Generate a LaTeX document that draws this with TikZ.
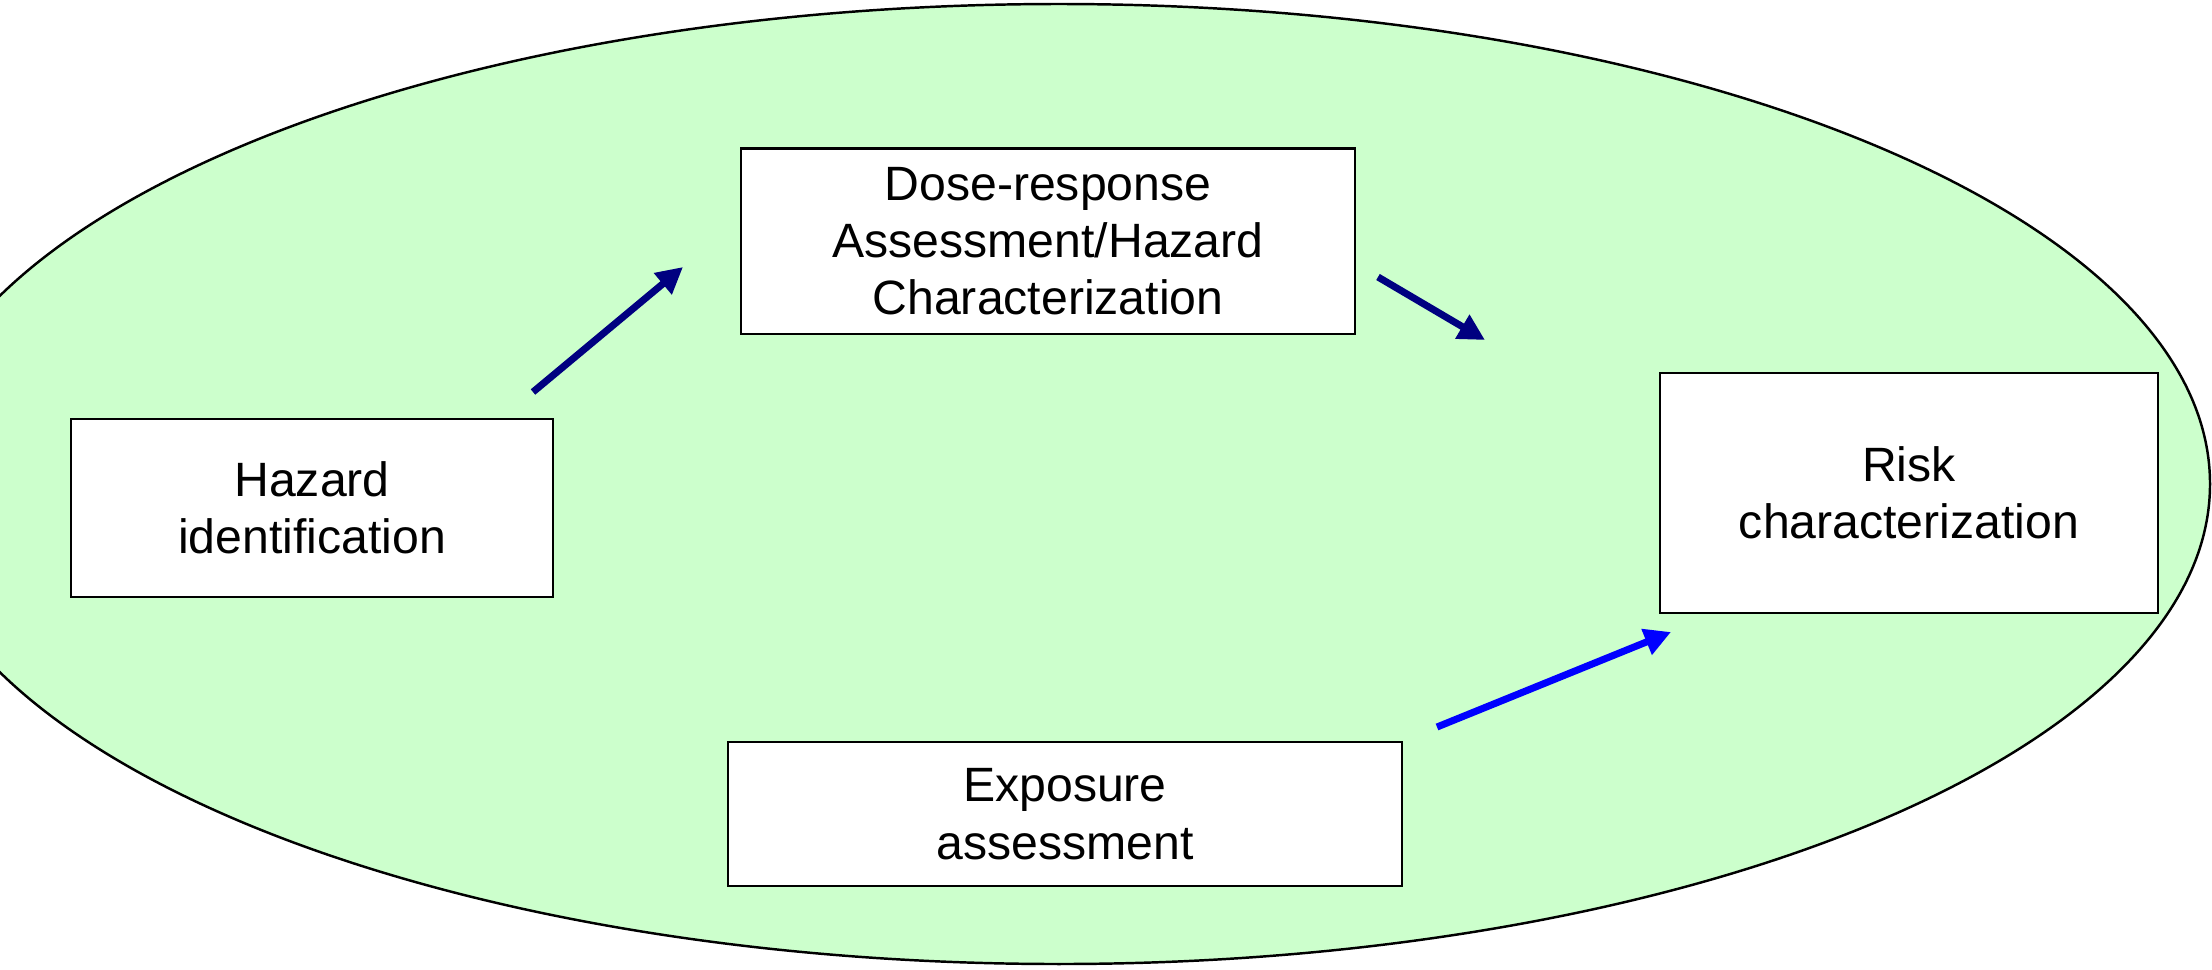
\documentclass[tikz,border=0pt]{standalone}
\usepackage{fontspec}
\setmainfont{Liberation Sans}
\usepackage{tikz}
\usetikzlibrary{arrows.meta}
\definecolor{pale}{RGB}{204, 255, 204}
\definecolor{navy}{RGB}{0, 0, 128}
\definecolor{bright}{RGB}{0, 0, 255}
\tikzset{
  stagebox/.style={draw=black, line width=0.6pt, fill=white, align=center,
    inner sep=0pt, font=\fontsize{13.7}{16.3}\selectfont},
  flowarrow/.style={line width=2pt, -{Triangle[length=7.5pt, width=7.5pt]}}
}

\begin{document}
\begin{tikzpicture}[x=0.01cm, y=-0.01cm]
  % Frame
  \useasboundingbox (0, 0) rectangle (2212, 969);

  % Background
  \draw[fill=pale, line width=0.7pt]
    (1059, 484) ellipse [x radius=1151, y radius=480];

  % Stages
  \node[stagebox, minimum width=4.81cm, minimum height=1.78cm]
    (haz) at (312, 508) {Hazard\\identification};
  \node[stagebox, minimum width=6.13cm, minimum height=1.85cm]
    (dose) at (1048, 241) {Dose-response\\Assessment/Hazard\\Characterization};
  \node[stagebox, minimum width=4.97cm, minimum height=2.40cm]
    (risk) at (1909, 493) {Risk\\characterization};
  \node[stagebox, minimum width=6.74cm, minimum height=1.44cm]
    (expo) at (1065, 814) {Exposure\\assessment};

  % Arrow ends
  \coordinate (hazout)  at (533, 392);
  \coordinate (dosein)  at (683, 267);
  \coordinate (doseout) at (1378, 277);
  \coordinate (riskin)  at (1485, 340);
  \coordinate (expoout) at (1437, 727);
  \coordinate (riskin2) at (1671, 632);

  \draw[flowarrow, navy]   (hazout)  -- (dosein);
  \draw[flowarrow, navy]   (doseout) -- (riskin);
  \draw[flowarrow, bright] (expoout) -- (riskin2);
\end{tikzpicture}
\end{document}
